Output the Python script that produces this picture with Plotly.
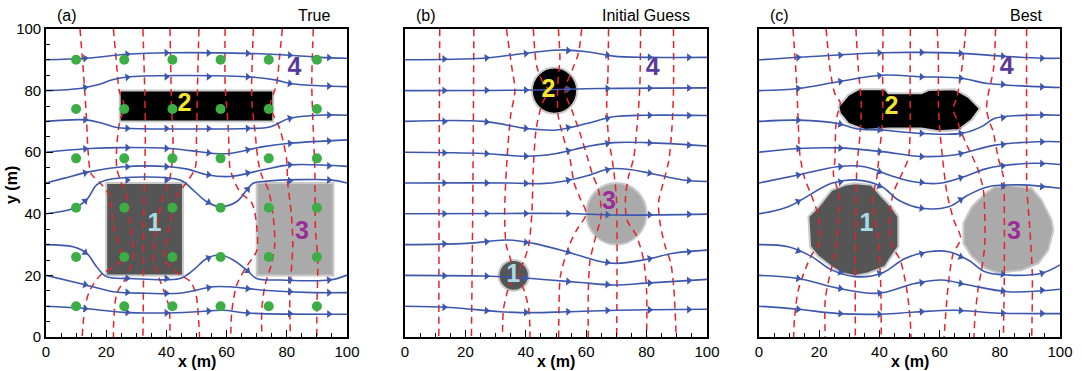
import numpy as np
import plotly.graph_objects as go

# ---------------- data ----------------
WELLS = [10, 26, 42, 58, 74, 90]          # monitoring-well grid (panel a)
ARROW_X = [13, 27, 40, 54, 67, 81, 94]    # arrow stations along streamlines

# Panel (a) "True": rectangles (x0, x1, y0, y1)
A_RECT1 = [20, 45.5, 20, 50]
A_RECT2 = [24.5, 75.5, 70, 80]
A_RECT3 = [70, 95.5, 20, 50]

# Panel (b) "Initial Guess": circles (cx, cy, r)
B_BLOB1 = [36, 20, 5]
B_BLOB2 = [49.5, 80, 7.5]
B_BLOB3 = [70, 40, 10]

# Panel (c) "Best": blob outlines
C_BLOB1_X = [31.9, 37.4, 40.8, 44, 46.3, 46.3, 44, 41.9, 36.3, 31.9, 27.5, 24.1, 19.7, 17, 16.4, 19.7, 24.1, 28.6]
C_BLOB1_Y = [49.9, 49.4, 45.6, 42.3, 39.1, 29.3, 26.1, 22.8, 20.7, 19.8, 20.7, 22.8, 26.1, 29.3, 39.1, 42.3, 47.7, 49.4]
C_BLOB2_X = [26.4, 29.7, 33, 41.9, 43, 45.2, 54, 56.3, 65.1, 69.5, 73.4, 70.6, 66.2, 59.6, 54, 43, 35.2, 29.7, 26.9]
C_BLOB2_Y = [74.8, 78.6, 80.4, 80.4, 79.1, 79.1, 79.1, 80.2, 80.4, 78, 74.2, 70.4, 67.2, 66.8, 67.7, 67.7, 67.2, 69.3, 72.6]
C_BLOB3_X = [82.8, 90.6, 93.9, 97.2, 97.8, 96.1, 92.8, 87.3, 79.5, 75.1, 70.7, 67.9, 67.9, 70.7, 75.1, 78.4]
C_BLOB3_Y = [49.4, 48.3, 44.5, 38, 34.7, 28.2, 23.9, 21.7, 20.8, 22.3, 26.1, 30.4, 37, 42.3, 46.6, 48.8]

# Zone labels: x, y per panel for zones 1..4
LABEL_TEXT = ["1", "2", "3", "4"]
A_LABEL_X = [36, 46, 85, 82.5]
A_LABEL_Y = [36.5, 75.5, 34, 87]
B_LABEL_X = [35.8, 47.5, 67.5, 82]
B_LABEL_Y = [20, 80, 43.5, 87]
C_LABEL_X = [35.7, 44, 84.7, 82.3]
C_LABEL_Y = [36.5, 74.5, 34, 87.5]

# Streamlines (x lists, y lists) per panel
A_STREAM_X = [
    [0, 13.5, 26.8, 41.2, 66.7, 81, 91, 100],
    [0, 11.3, 16.8, 22.4, 27.9, 66.7, 76.6, 81, 93.2, 100],
    [0, 13.5, 19, 23.5, 27.9, 66.7, 74.4, 81, 93.2, 100],
    [0, 14.6, 25.7, 41.2, 48, 55.6, 61, 72.2, 81, 100],
    [0, 5.8, 14.6, 25.7, 41.2, 47, 53.4, 61, 72.2, 81, 100],
    [0, 9, 13.5, 16.8, 20.1, 44.5, 48.9, 53.4, 57.8, 63.3, 66.7, 68.8, 73.3, 94.3, 100],
    [0, 9, 13.5, 16.8, 20.1, 27.9, 44.5, 48.9, 53.4, 57.8, 62.2, 66.7, 70, 77.7, 94.3, 100],
    [0, 11.3, 22.4, 33.4, 44.5, 55.6, 61, 72.2, 88.8, 100],
    [0, 11.3, 25.7, 39, 50, 58.9, 66.7, 100],
]
A_STREAM_Y = [
    [90, 90.5, 91.8, 92.3, 92.1, 91.5, 90.8, 90.5],
    [80, 80.7, 81.8, 83.6, 84.5, 84.5, 83.4, 82.3, 81.5, 81.3],
    [70, 70.5, 69.3, 68, 67.7, 67.7, 68.2, 71, 72.1, 72],
    [60, 61.2, 61.5, 61.2, 60.5, 59.6, 59.6, 61.8, 62.9, 64],
    [50, 51.5, 53.7, 55.3, 55.3, 54.5, 52.7, 52.1, 54.3, 55.9, 55.4],
    [40, 41.7, 44.5, 49.4, 51, 51, 47.7, 43.9, 42.3, 43.9, 47.7, 49.9, 50.6, 51, 50],
    [30, 29.3, 27.2, 22.8, 19.6, 19, 19, 21.7, 25.5, 26.6, 25, 21.7, 19, 18.5, 18.5, 20.1],
    [20, 17.4, 14.7, 14.2, 14.2, 16.3, 16.3, 15.2, 14.4, 14.4],
    [10, 9.4, 8, 7.8, 8.2, 8.7, 7.8, 7.4],
]
B_STREAM_X = [
    [0, 26, 34.8, 51.3, 60.2, 69, 80, 100],
    [0, 42.5, 64.6, 100],
    [0, 26, 40.3, 50.2, 60.2, 69, 80, 100],
    [0, 26, 40.3, 50.2, 60.2, 69, 80, 100],
    [0, 35, 45, 52, 60, 68, 75, 82, 92, 100],
    [0, 31.5, 53.5, 70, 100],
    [0, 20.4, 33.7, 42.5, 53.5, 64.6, 70, 80, 88.8, 100],
    [0, 26, 35.9, 48, 58, 69, 80, 100],
    [0, 14.9, 31.5, 42.5, 53.5, 70, 100],
]
B_STREAM_Y = [
    [90, 90.5, 91.5, 93.2, 92.6, 91.2, 90.8, 90.8],
    [80, 80.2, 80.7, 80.9],
    [70, 70, 67.7, 67.2, 69.3, 71.5, 72, 71.9],
    [60, 59.6, 58.7, 59.6, 61.8, 63.1, 63.1, 62],
    [50, 50, 49.8, 50.5, 52.3, 54.6, 54.3, 53, 51, 50.5],
    [40, 40.1, 40.1, 39.6, 39.9],
    [30, 30.4, 31.5, 30.4, 27.7, 24.5, 23.9, 25.2, 27.2, 28.2],
    [20, 19.8, 19.4, 18.5, 17.7, 16.9, 17.5, 18.7],
    [10, 9.6, 8.2, 7.9, 8.2, 8.7, 9],
]
C_STREAM_X = [
    [0, 40.8, 54, 67.3, 80.6, 93.9, 100],
    [0, 13, 26.4, 40.8, 54, 67.3, 76, 92.8, 100],
    [0, 13, 26.4, 31.9, 40.8, 54, 67.3, 74, 78.4, 92.8, 100],
    [0, 13, 26.4, 40.8, 54, 65, 78.4, 92.8, 100],
    [0, 13, 26, 35, 45, 52, 60, 68, 75, 80, 92, 100],
    [0, 9.7, 24.1, 31.9, 40.8, 46.3, 54, 63, 69.5, 76.2, 87.2, 100],
    [0, 9.7, 17.5, 24.1, 31.9, 40.8, 48.5, 56.3, 63, 69.5, 75.1, 82.8, 93.9, 100],
    [0, 13, 26.4, 39.6, 51.8, 60.7, 69.5, 82.8, 100],
    [0, 13, 26.4, 40.8, 51.8, 65, 78.4, 100],
]
C_STREAM_Y = [
    [90, 92.3, 92.4, 92.1, 91.2, 90.5, 90.5],
    [80, 80.7, 82.9, 85, 84.5, 84, 82.3, 81.3, 81],
    [70, 70.4, 69.3, 67.7, 67.2, 66.1, 66.1, 68.3, 71, 72.1, 72],
    [60, 61.2, 61.4, 60.2, 58.6, 59.1, 62.3, 63.4, 63.4],
    [50, 52.6, 55.3, 55.3, 52, 50.3, 49.9, 52, 54.5, 55.5, 56.4, 56],
    [40, 42.3, 49.9, 51, 48.8, 44.5, 41.8, 42.3, 46.1, 48.8, 49.4, 48.3],
    [30, 29.3, 26.1, 21.8, 19.6, 20.7, 25.5, 27.7, 27.7, 25, 21.2, 20.1, 20.7, 23.4],
    [20, 19, 15.8, 14.2, 17.4, 18.5, 16.9, 14.7, 15.5],
    [10, 9, 7.6, 7.4, 8.1, 8.7, 7.8, 7.6],
]

# Head contours (red dashed): x lists, y lists per panel
A_HEAD_X = [
    [11.3, 12.5, 13.5, 14, 15, 18, 21, 22.4, 25, 18, 14.5, 13, 12],
    [22.4, 23.5, 24.3, 26, 24.5, 23.5, 23.5, 25, 26.8, 28, 29, 27, 23.5, 22.5, 22.4],
    [32.2, 32.8, 33, 32.7, 32.4, 32.4, 32.2],
    [41.2, 41.7, 42.2, 40.8, 39, 36.8, 35.7, 38, 40.8, 41.2],
    [50.8, 50.3, 50, 49.6, 47, 43.5, 41, 39.5, 44, 48, 49.8, 50.6, 51],
    [59.5, 59.5, 60, 60.6, 61.1, 62, 64.5, 68.4, 70, 70, 66.7, 63.4, 61.7, 61.4],
    [68.9, 68.3, 68.5, 69.4, 70.5, 71.6, 73.9, 75.5, 76, 75, 72.8, 71.7, 71.7],
    [78.5, 77.5, 76.6, 74.5, 77.7, 79.9, 80.3, 81.5, 82, 81.6, 81, 81.2],
    [88.8, 88.3, 88.8, 89.3, 89.4, 89.5, 90.3, 90, 90],
]
A_HEAD_Y = [
    [100, 85, 70, 60, 53, 50, 46, 36, 25, 20, 15, 10, 0],
    [100, 88, 80, 75, 70, 62, 55, 50, 46, 36, 26, 20, 14, 5, 0],
    [100, 80, 65, 50, 35, 20, 0],
    [100, 75, 60, 50, 46, 36, 25, 18, 10, 0],
    [100, 80, 65, 55, 50.5, 46, 36, 25, 20.5, 18, 14, 7, 0],
    [100, 82, 75, 67, 55, 52, 47, 43.5, 36, 28, 23, 17, 8, 0],
    [100, 81, 75, 67, 57, 52.6, 47.7, 39, 30, 24, 17, 9, 0],
    [100, 90, 82, 75, 67.5, 58, 50, 40, 30, 23, 15, 0],
    [100, 82, 67, 55, 45, 35, 25, 10, 0],
]
B_HEAD_X = [
    [11.5, 11.3, 11.2],
    [22.8, 22.5, 22],
    [33.6, 35.3, 36.4, 35, 33.6, 33, 33.5, 35, 36, 34, 32.6, 32.3],
    [42.5, 43.6, 45.5, 47.5, 45.5, 43.5, 42.5, 42, 41, 39.5, 37.5, 39.5, 41, 41.4],
    [50.8, 51.3, 51, 50.5, 50.7, 52.4, 54.6, 56, 58, 60, 57, 54.5, 51.5, 51, 50.9],
    [58.5, 57.4, 55.5, 53, 55.5, 58, 60.5, 62, 64, 65, 63, 61.3, 60.7, 60.7],
    [67.4, 67.2, 66.8, 67.4, 69, 70, 70.2, 70.2, 70.1],
    [78, 77.9, 77.7, 76.8, 75.7, 74, 73, 73.5, 76.6, 79, 80, 80],
    [88.9, 88.9, 88.4, 87.3, 85.5, 84, 84.3, 86, 88, 89, 89.8],
]
B_HEAD_Y = [
    [100, 50, 0],
    [100, 50, 0],
    [100, 88, 80, 72, 55, 40, 30, 25, 20, 15, 9, 0],
    [100, 88, 83, 80, 76, 68, 55, 40, 30, 25, 20, 15, 9, 0],
    [100, 90, 87, 80, 72, 65, 58, 50, 45, 40, 35, 30, 20, 10, 0],
    [100, 92, 87, 80, 73, 66, 58, 53, 48, 40, 32, 25, 15, 0],
    [100, 85, 75, 65, 55, 45, 35, 20, 0],
    [100, 88, 80, 68, 58, 52, 45, 38, 33, 25, 15, 0],
    [100, 80, 68, 57, 50, 44, 38, 30, 24, 16, 0],
]
C_HEAD_X = [
    [11.3, 12.4, 13, 13.5, 15, 17.4, 19.5, 20.3, 19.5, 17.7, 15.4, 13, 11.8, 11.5],
    [22.3, 23.6, 25.2, 27, 26, 25.5, 25.2, 24.7, 26.5, 26.3, 25.5, 23.5, 22, 22],
    [32.2, 33, 34, 33.5, 32.5, 32.3, 32, 32],
    [41.2, 41.1, 41.1, 40.8, 40, 39.5, 39.2, 37.8, 38.5, 39.6, 40, 40.5, 40.6],
    [50.3, 50.2, 50.2, 49.6, 47.5, 44.7, 43.5, 44, 46.9, 49, 50.2, 50.5],
    [59.2, 59.6, 59.6, 60.1, 61, 62.4, 64.7, 67, 64.5, 63, 62, 61.5],
    [68.7, 67.5, 65.8, 64.5, 66, 67, 69.2, 72.5, 74.5, 75, 75, 74, 73, 71.8, 71.4],
    [78.6, 77.9, 76, 75.6, 76.5, 77.7, 79.5, 81.2, 81.5, 81.5, 81.2],
    [88.9, 88.9, 89, 90, 90.8, 90.6],
]
C_HEAD_Y = [
    [100, 84, 71, 60, 52, 46, 40, 34, 29, 27, 22, 15, 6, 0],
    [100, 87, 79, 76, 72, 68, 57, 53, 46, 38, 28, 20, 12, 0],
    [100, 87, 75, 65, 55, 45, 30, 0],
    [100, 85, 72, 67, 60, 55, 52, 45, 38, 32, 26, 15, 0],
    [100, 85, 67, 58, 53, 47, 40, 30, 25, 16, 6, 0],
    [100, 90, 75, 67, 58, 47, 38, 32, 27, 18, 7, 0],
    [100, 88, 78, 74, 70, 67, 62, 55, 48, 40, 30, 22, 17, 7, 0],
    [100, 87, 78, 74, 70, 67, 58, 52, 40, 20, 0],
    [100, 60, 48, 35, 20, 0],
]

# ---------------- styling ----------------
BLUE = "#3d57ad"
RED = "#e3242b"
GREEN = "#3cae45"
C1, C2, C3 = "#555555", "#000000", "#aaaaaa"
HALO = "#c9c9c9"
LABEL_COLORS = ["#a9dbe6", "#f2e431", "#9c2c97", "#5a3b9a"]
FONT = "Liberation Sans, Arial, sans-serif"

PX_X = 3.01   # px per data unit (x)
PX_Y = 3.08   # px per data unit (y)

fig = go.Figure()

axes = [("x", "y"), ("x2", "y2"), ("x3", "y3")]
domains_x = [[46 / 1082, 347 / 1082], [405 / 1082, 707 / 1082], [759 / 1082, 1060 / 1082]]
dom_y = [1 - 337 / 371, 1 - 29 / 371]


def add_streams(xs_list, ys_list, xa, ya):
    for xs, ys in zip(xs_list, ys_list):
        fig.add_trace(go.Scatter(x=xs, y=ys, mode="lines", xaxis=xa, yaxis=ya,
                                 line=dict(color=BLUE, width=1.6, shape="spline", smoothing=1.0),
                                 hoverinfo="skip", showlegend=False))
        ax = np.array(ARROW_X, dtype=float)
        ay = np.interp(ax, xs, ys)
        dy = np.interp(ax + 1.5, xs, ys) - np.interp(ax - 1.5, xs, ys)
        ang = -np.degrees(np.arctan2(dy * PX_Y, 3.0 * PX_X))
        fig.add_trace(go.Scatter(x=ax, y=ay, mode="markers", xaxis=xa, yaxis=ya,
                                 marker=dict(symbol="triangle-right", size=7, color=BLUE, angle=ang,
                                             line=dict(width=0)),
                                 hoverinfo="skip", showlegend=False))


def add_heads(xs_list, ys_list, xa, ya):
    for xs, ys in zip(xs_list, ys_list):
        fig.add_trace(go.Scatter(x=xs, y=ys, mode="lines", xaxis=xa, yaxis=ya,
                                 line=dict(color=RED, width=1.5, dash="7px,5px", shape="spline", smoothing=0.8),
                                 hoverinfo="skip", showlegend=False))


def add_blob(xs, ys, color, xa, ya):
    fig.add_trace(go.Scatter(x=xs + xs[:1], y=ys + ys[:1], mode="lines", fill="toself",
                             fillcolor=color, xaxis=xa, yaxis=ya,
                             line=dict(color=HALO, width=2), hoverinfo="skip", showlegend=False))


# Panel (a) rectangles
for rect, col in [(A_RECT1, C1), (A_RECT2, C2), (A_RECT3, C3)]:
    fig.add_shape(type="rect", xref="x", yref="y", x0=rect[0], x1=rect[1], y0=rect[2], y1=rect[3],
                  fillcolor=col, line=dict(color=HALO, width=2), layer="below")
# Panel (b) circles
for blob, col in [(B_BLOB1, C1), (B_BLOB2, C2), (B_BLOB3, C3)]:
    fig.add_shape(type="circle", xref="x2", yref="y2",
                  x0=blob[0] - blob[2], x1=blob[0] + blob[2], y0=blob[1] - blob[2], y1=blob[1] + blob[2],
                  fillcolor=col, line=dict(color=HALO, width=2), layer="below")
# Panel (c) blobs
add_blob(C_BLOB1_X, C_BLOB1_Y, C1, "x3", "y3")
add_blob(C_BLOB2_X, C_BLOB2_Y, C2, "x3", "y3")
add_blob(C_BLOB3_X, C_BLOB3_Y, C3, "x3", "y3")

add_heads(A_HEAD_X, A_HEAD_Y, "x", "y")
add_heads(B_HEAD_X, B_HEAD_Y, "x2", "y2")
add_heads(C_HEAD_X, C_HEAD_Y, "x3", "y3")

add_streams(A_STREAM_X, A_STREAM_Y, "x", "y")
add_streams(B_STREAM_X, B_STREAM_Y, "x2", "y2")
add_streams(C_STREAM_X, C_STREAM_Y, "x3", "y3")

# wells in panel (a)
wx = [x for y in WELLS for x in WELLS]
wy = [y for y in WELLS for x in WELLS]
fig.add_trace(go.Scatter(x=wx, y=wy, mode="markers", xaxis="x", yaxis="y",
                         marker=dict(color=GREEN, size=10, line=dict(width=0)),
                         hoverinfo="skip", showlegend=False))

# zone labels
for (lx, ly), (xa, ya) in zip([(A_LABEL_X, A_LABEL_Y), (B_LABEL_X, B_LABEL_Y), (C_LABEL_X, C_LABEL_Y)], axes):
    fig.add_trace(go.Scatter(x=lx, y=ly, mode="text", text=LABEL_TEXT, xaxis=xa, yaxis=ya,
                             textfont=dict(family=FONT, size=25, color=LABEL_COLORS, weight="bold"),
                             hoverinfo="skip", showlegend=False))

layout = dict(
    width=1082, height=371, autosize=False,
    margin=dict(l=0, r=0, t=0, b=0, pad=0, autoexpand=False),
    paper_bgcolor="white", plot_bgcolor="white",
    font=dict(family=FONT, size=15, color="black"),
    showlegend=False,
)
for i, (xa, ya) in enumerate(axes):
    xk = "xaxis" if i == 0 else f"xaxis{i + 1}"
    yk = "yaxis" if i == 0 else f"yaxis{i + 1}"
    layout[xk] = dict(domain=domains_x[i], range=[0, 100], anchor=ya, showgrid=False, zeroline=False,
                      automargin=False,
                      showline=True, mirror=True, linecolor="black", linewidth=1.6,
                      ticks="inside", ticklen=7, tickwidth=1.4, tickcolor="black", dtick=20,
                      minor=dict(ticks="inside", ticklen=4, dtick=5, tickwidth=1, tickcolor="black"),
                      tickfont=dict(size=15), fixedrange=True)
    ydict = dict(domain=dom_y, range=[0, 100], anchor=xa, showgrid=False, zeroline=False,
                 automargin=False,
                 showline=True, mirror=True, linecolor="black", linewidth=1.6, fixedrange=True)
    if i == 0:
        ydict.update(ticks="inside", ticklen=7, tickwidth=1.4, tickcolor="black", dtick=20,
                     minor=dict(ticks="inside", ticklen=4, dtick=5, tickwidth=1, tickcolor="black"),
                     tickfont=dict(size=15))
    else:
        ydict.update(ticks="", showticklabels=False)
    layout[yk] = ydict

fig.update_layout(**layout)

ann = []
titles = [("(a)", "True"), ("(b)", "Initial Guess"), ("(c)", "Best")]
for i, (l, r) in enumerate(titles):
    d0, d1 = domains_x[i]
    ann.append(dict(text=l, x=d0 + 9 / 1082, y=1 - 15 / 371, xref="paper", yref="paper",
                    xanchor="left", yanchor="middle", showarrow=False, font=dict(size=16)))
    ann.append(dict(text=r, x=d1 - 15 / 1082, y=1 - 15 / 371, xref="paper", yref="paper",
                    xanchor="right", yanchor="middle", showarrow=False, font=dict(size=16)))
    ann.append(dict(text="<b>x (m)</b>", x=(d0 + d1) / 2, y=1 - 361 / 371, xref="paper", yref="paper",
                    xanchor="center", yanchor="middle", showarrow=False, font=dict(size=16)))
ann.append(dict(text="<b>y (m)</b>", x=12 / 1082, y=1 - 185 / 371, xref="paper", yref="paper",
                xanchor="center", yanchor="middle", showarrow=False, textangle=-90, font=dict(size=16)))
fig.update_layout(annotations=ann)

fig.write_html("out.html", config={"displayModeBar": False})
